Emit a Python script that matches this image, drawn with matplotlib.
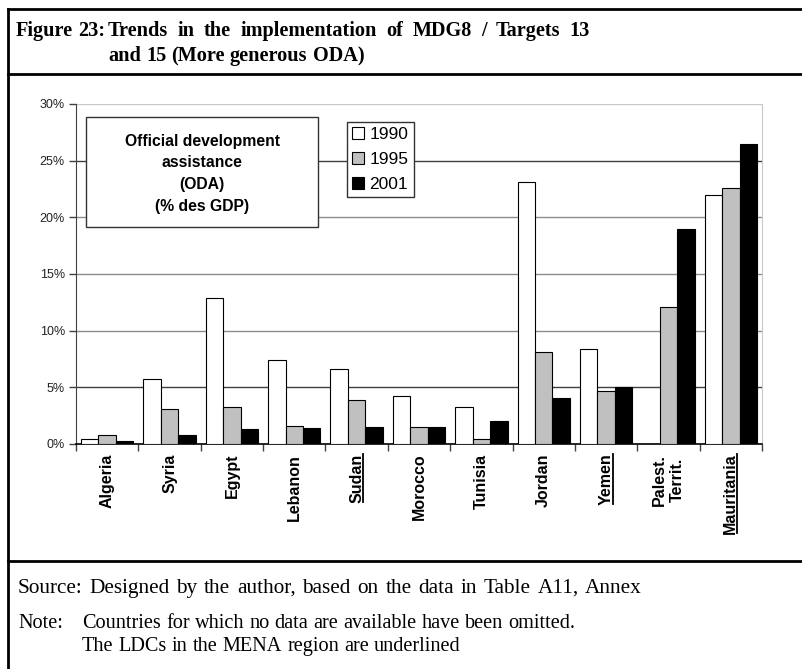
import numpy as np
import matplotlib.pyplot as plt
from matplotlib.lines import Line2D
from matplotlib.patches import Rectangle
from matplotlib.ticker import FuncFormatter, FixedLocator

# ODA as % of GDP, by country and year
countries = ["Algeria", "Syria", "Egypt", "Lebanon", "Sudan", "Morocco",
             "Tunisia", "Jordan", "Yemen", "Palest.\nTerrit.", "Mauritania"]
oda_1990 = [0.4, 5.7, 12.9, 7.4, 6.6, 4.2, 3.3, 23.1, 8.4, 0.0, 22.0]
oda_1995 = [0.8, 3.1, 3.3, 1.6, 3.9, 1.5, 0.4, 8.1, 4.7, 12.1, 22.6]
oda_2001 = [0.3, 0.8, 1.3, 1.4, 1.5, 1.5, 2.0, 4.1, 5.0, 19.0, 26.5]
years = ["1990", "1995", "2001"]
underlined = ["Sudan", "Yemen", "Mauritania"]   # LDCs
y_ticks = [0, 5, 10, 15, 20, 25, 30]

W, H = 803, 669
fig = plt.figure(figsize=(W / 100, H / 100), dpi=100)
ax = fig.add_axes([76 / W, 1 - 444 / H, 686 / W, 340 / H])

x = np.arange(len(countries))
bw = 0.28
series = [oda_1990, oda_1995, oda_2001]
colors = ["white", "#c0c0c0", "black"]
for i, (vals, c, lab) in enumerate(zip(series, colors, years)):
    ax.bar(x + (i - 1) * bw, vals, bw, color=c, edgecolor="black",
           linewidth=0.8, label=lab, zorder=3)

# gridlines
grid_cols = {5: "#404040", 10: "#8c8c8c", 15: "#8c8c8c", 20: "#8c8c8c",
             25: "#404040", 30: "#c8c8c8"}
for v in y_ticks[1:]:
    ax.axhline(v, color=grid_cols[v], lw=1.0, zorder=1)

ax.set_xlim(-0.5, len(countries) - 0.5)
ax.set_ylim(0, 30)
ax.set_yticks(y_ticks)
ax.yaxis.set_major_formatter(FuncFormatter(lambda v, p: f"{v:.0f}%"))
ax.tick_params(axis="y", length=5, width=1, color="#404040", pad=3,
               labelsize=9)
for t in ax.get_yticklabels():
    t.set_fontfamily("Liberation Sans")
    t.set_color("#222222")

ax.set_xticks(x)
ax.set_xticklabels(countries, rotation=90, fontsize=11.5,
                   fontweight="bold", fontfamily="Liberation Sans")
ax.xaxis.set_minor_locator(FixedLocator(np.arange(len(countries) + 1) - 0.5))
ax.tick_params(axis="x", which="major", length=0, pad=7)
ax.tick_params(axis="x", which="minor", length=5, width=1, color="#404040")

ax.spines["top"].set_visible(False)
ax.spines["right"].set_color("#c8c8c8")
ax.spines["left"].set_color("#404040")
ax.spines["bottom"].set_color("black")
ax.spines["bottom"].set_linewidth(1.2)

# text box
ax.add_patch(Rectangle((0.0146, 0.638), 0.338, 0.324, transform=ax.transAxes,
                       facecolor="white", edgecolor="#333333", lw=1,
                       zorder=4))
ax.text(0.184, 0.795, "Official development\nassistance\n(ODA)\n(% des GDP)",
        transform=ax.transAxes, ha="center", va="center", fontsize=11.3,
        fontweight="bold", fontfamily="Liberation Sans", linespacing=1.55,
        zorder=5)

leg = ax.legend(loc="upper left", bbox_to_anchor=(0.395, 0.947),
                frameon=True, fancybox=False, edgecolor="#333333",
                framealpha=1, handlelength=0.7, handleheight=0.7,
                handletextpad=0.3, labelspacing=0.55, borderpad=0.3,
                borderaxespad=0, prop={"family": "Liberation Sans",
                                       "size": 12.5})
leg.set_zorder(5)

# frame of the figure box
lk = dict(color="black", lw=2, transform=fig.transFigure)
fig.add_artist(Line2D([8 / W, 8 / W], [0, 1 - 9 / H], **lk))
for yy in [9, 74, 561]:
    fig.add_artist(Line2D([8 / W, 1], [1 - yy / H, 1 - yy / H], **lk))

fig.canvas.draw()
r = fig.canvas.get_renderer()


def words(xp, yp, line, x_end=None, **kw):
    # one text per word; spread to x_end if given (justified line)
    ts = [fig.text(0, 1 - yp / H, w, va="baseline",
                   fontfamily="Liberation Serif", **kw) for w in line.split()]
    ws = [t.get_window_extent(r).width for t in ts]
    if x_end is None:
        probe = fig.text(0, 0, "a a", fontfamily="Liberation Serif", **kw)
        probe2 = fig.text(0, 0, "aa", fontfamily="Liberation Serif", **kw)
        gap = (probe.get_window_extent(r).width
               - probe2.get_window_extent(r).width)
        probe.remove()
        probe2.remove()
    else:
        gap = (x_end - xp - sum(ws)) / (len(ts) - 1)
    pos = xp
    for t, w in zip(ts, ws):
        t.set_x(pos / W)
        pos += w + gap


bold = dict(fontsize=14.6, fontweight="bold")
words(16, 36, "Figure 23:", **bold)
words(108, 36, "Trends in the implementation of MDG8 / Targets 13",
      x_end=590, **bold)
words(108, 61, "and 15 (More generous ODA)", **bold)

words(18, 593,
      "Source: Designed by the author, based on the data in Table A11, Annex",
      x_end=642, fontsize=15.3)
words(18, 628, "Note:", fontsize=14.6)
words(82, 628, "Countries for which no data are available have been omitted.",
      fontsize=14.6)
words(82, 651, "The LDCs in the MENA region are underlined", fontsize=14.6)

# underline LDC labels (vertical because text is rotated)
inv = fig.transFigure.inverted()
for lbl in ax.get_xticklabels():
    if lbl.get_text() in underlined:
        bb = lbl.get_window_extent(r)
        (fx0, fy0), (fx1, fy1) = inv.transform([(bb.x1 - 1, bb.y0 + 1),
                                                (bb.x1 - 1, bb.y1)])
        fig.add_artist(Line2D([fx0, fx1], [fy0, fy1], color="black", lw=1.3,
                              transform=fig.transFigure))

fig.savefig("out.png", dpi=100)
